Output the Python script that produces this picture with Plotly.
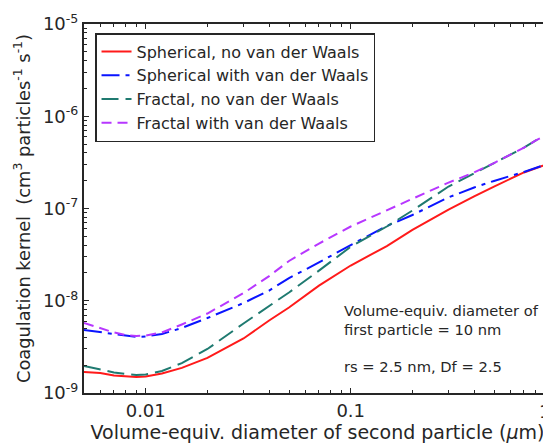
import plotly.graph_objects as go

# Diameter of second particle (um)
diameter = [0.005, 0.006, 0.007, 0.008, 0.009, 0.01, 0.012, 0.015, 0.02, 0.03, 0.04,
            0.05, 0.07, 0.1, 0.15, 0.2, 0.3, 0.4, 0.5, 0.7, 0.8, 1.0]

# Coagulation kernel (cm^3 particles^-1 s^-1)
spherical_no_vdw = [1.69e-9, 1.65e-9, 1.55e-9, 1.51e-9, 1.49e-9, 1.51e-9, 1.63e-9, 1.87e-9,
                    2.40e-9, 3.90e-9, 6.11e-9, 8.45e-9, 1.46e-8, 2.41e-8, 3.92e-8, 5.85e-8,
                    9.75e-8, 1.35e-7, 1.73e-7, 2.46e-7, 2.75e-7, 3.27e-7]
spherical_vdw = [4.82e-9, 4.58e-9, 4.31e-9, 4.15e-9, 4.05e-9, 4.10e-9, 4.36e-9, 5.07e-9,
                 6.50e-9, 9.45e-9, 1.29e-8, 1.76e-8, 2.60e-8, 4.02e-8, 6.46e-8, 8.50e-8,
                 1.32e-7, 1.69e-7, 1.99e-7, 2.49e-7, 2.78e-7, 3.27e-7]
fractal_no_vdw = [1.96e-9, 1.80e-9, 1.67e-9, 1.61e-9, 1.57e-9, 1.59e-9, 1.73e-9, 2.11e-9,
                  3.00e-9, 5.67e-9, 8.77e-9, 1.23e-8, 2.12e-8, 3.85e-8, 6.38e-8, 9.51e-8,
                  1.73e-7, 2.43e-7, 3.11e-7, 4.58e-7, 5.46e-7, 7.10e-7]
fractal_vdw = [5.74e-9, 5.00e-9, 4.53e-9, 4.25e-9, 4.15e-9, 4.20e-9, 4.53e-9, 5.53e-9,
               7.27e-9, 1.21e-8, 1.85e-8, 2.70e-8, 4.17e-8, 6.38e-8, 9.63e-8, 1.28e-7,
               1.91e-7, 2.46e-7, 3.11e-7, 4.58e-7, 5.46e-7, 7.10e-7]

series_names = ["Spherical, no van der Waals", "Spherical with van der Waals",
                "Fractal, no van der Waals", "Fractal with van der Waals"]

y_tickvals = [1e-9, 1e-8, 1e-7, 1e-6, 1e-5]
y_ticktext = ["10<sup>-9</sup>", "10<sup>-8</sup>", "10<sup>-7</sup>", "10<sup>-6</sup>", "10<sup>-5</sup>"]
x_tickvals = [0.01, 0.1]
x_ticktext = ["0.01", "0.1"]

INK = "#262626"
FONT = "DejaVu Sans"

styles = [
    dict(color="#ff1a1a", dash="solid"),
    dict(color="#0a14ff", dash="18px,6px,4px,6px"),
    dict(color="#1f7a70", dash="17px,7px"),
    dict(color="#b737ff", dash="10px,6px"),
]

fig = go.Figure()
for name, ys, st in zip(series_names,
                        [spherical_no_vdw, spherical_vdw, fractal_no_vdw, fractal_vdw],
                        styles):
    fig.add_trace(go.Scatter(x=diameter, y=ys, mode="lines", name=name,
                             line=dict(color=st["color"], dash=st["dash"], width=2)))

minor_x = [m * 10 ** e for e in range(-3, 1) for m in range(2, 10)]
minor_y = [m * 10 ** e for e in range(-10, -4) for m in range(2, 10)]

fig.update_xaxes(
    type="log", range=[-2.301, -0.023],
    tickvals=x_tickvals, ticktext=x_ticktext,
    ticks="inside", ticklen=5, tickwidth=1.3, tickcolor=INK,
    minor=dict(ticks="inside", ticklen=3, tickwidth=1.3, tickcolor=INK, tickvals=minor_x, showgrid=False),
    showline=True, linecolor=INK, linewidth=2, mirror="ticks",
    showgrid=False, zeroline=False,
    tickfont=dict(size=18, color=INK, family=FONT),
    title=dict(text="Volume-equiv. diameter of second particle (<i>μ</i>m)",
               font=dict(size=19, color=INK, family=FONT), standoff=3),
)
fig.update_yaxes(
    type="log", range=[-9, -5],
    tickvals=y_tickvals, ticktext=y_ticktext,
    ticks="inside", ticklen=5, tickwidth=1.3, tickcolor=INK,
    minor=dict(ticks="inside", ticklen=3, tickwidth=1.3, tickcolor=INK, tickvals=minor_y, showgrid=False),
    showline=True, linecolor=INK, linewidth=2, mirror=False,
    showgrid=False, zeroline=False,
    tickfont=dict(size=18, color=INK, family=FONT),
    title=dict(text="Coagulation kernel  (cm<sup>3</sup> particles<sup>-1</sup> s<sup>-1</sup>)",
               font=dict(size=17.8, color=INK, family=FONT), standoff=8),
)

# tick label for x = 1 (the axis end lies just beyond the visible frame)
fig.add_annotation(xref="paper", yref="paper", x=0.987, y=-0.05, text="1",
                   showarrow=False, xanchor="center", yanchor="middle",
                   font=dict(size=18, color=INK, family=FONT))
fig.add_annotation(xref="paper", yref="paper", x=0.5525, y=(393 - 319.5) / 369,
                   text="Volume-equiv. diameter of<br>first particle = 10 nm",
                   showarrow=False, xanchor="left", yanchor="middle", align="left",
                   font=dict(size=14.7, color=INK, family=FONT))
fig.add_annotation(xref="paper", yref="paper", x=0.5525, y=(393 - 366) / 369,
                   text="rs = 2.5 nm, Df = 2.5",
                   showarrow=False, xanchor="left", yanchor="middle", align="left",
                   font=dict(size=14.7, color=INK, family=FONT))

# page body has an 8px margin; figure is sized so the plot lands where the reference has it
fig.update_layout(
    width=543, height=439,
    margin=dict(l=76, r=0, t=16, b=54),
    paper_bgcolor="white", plot_bgcolor="white",
    font=dict(family=FONT, color=INK),
    showlegend=True,
    legend=dict(x=0.0236, y=0.9756, xanchor="left", yanchor="top",
                bgcolor="white", bordercolor=INK, borderwidth=1.5,
                font=dict(size=16, color=INK, family=FONT),
                tracegroupgap=0, itemwidth=30),
)

fig.write_html("out.html")
